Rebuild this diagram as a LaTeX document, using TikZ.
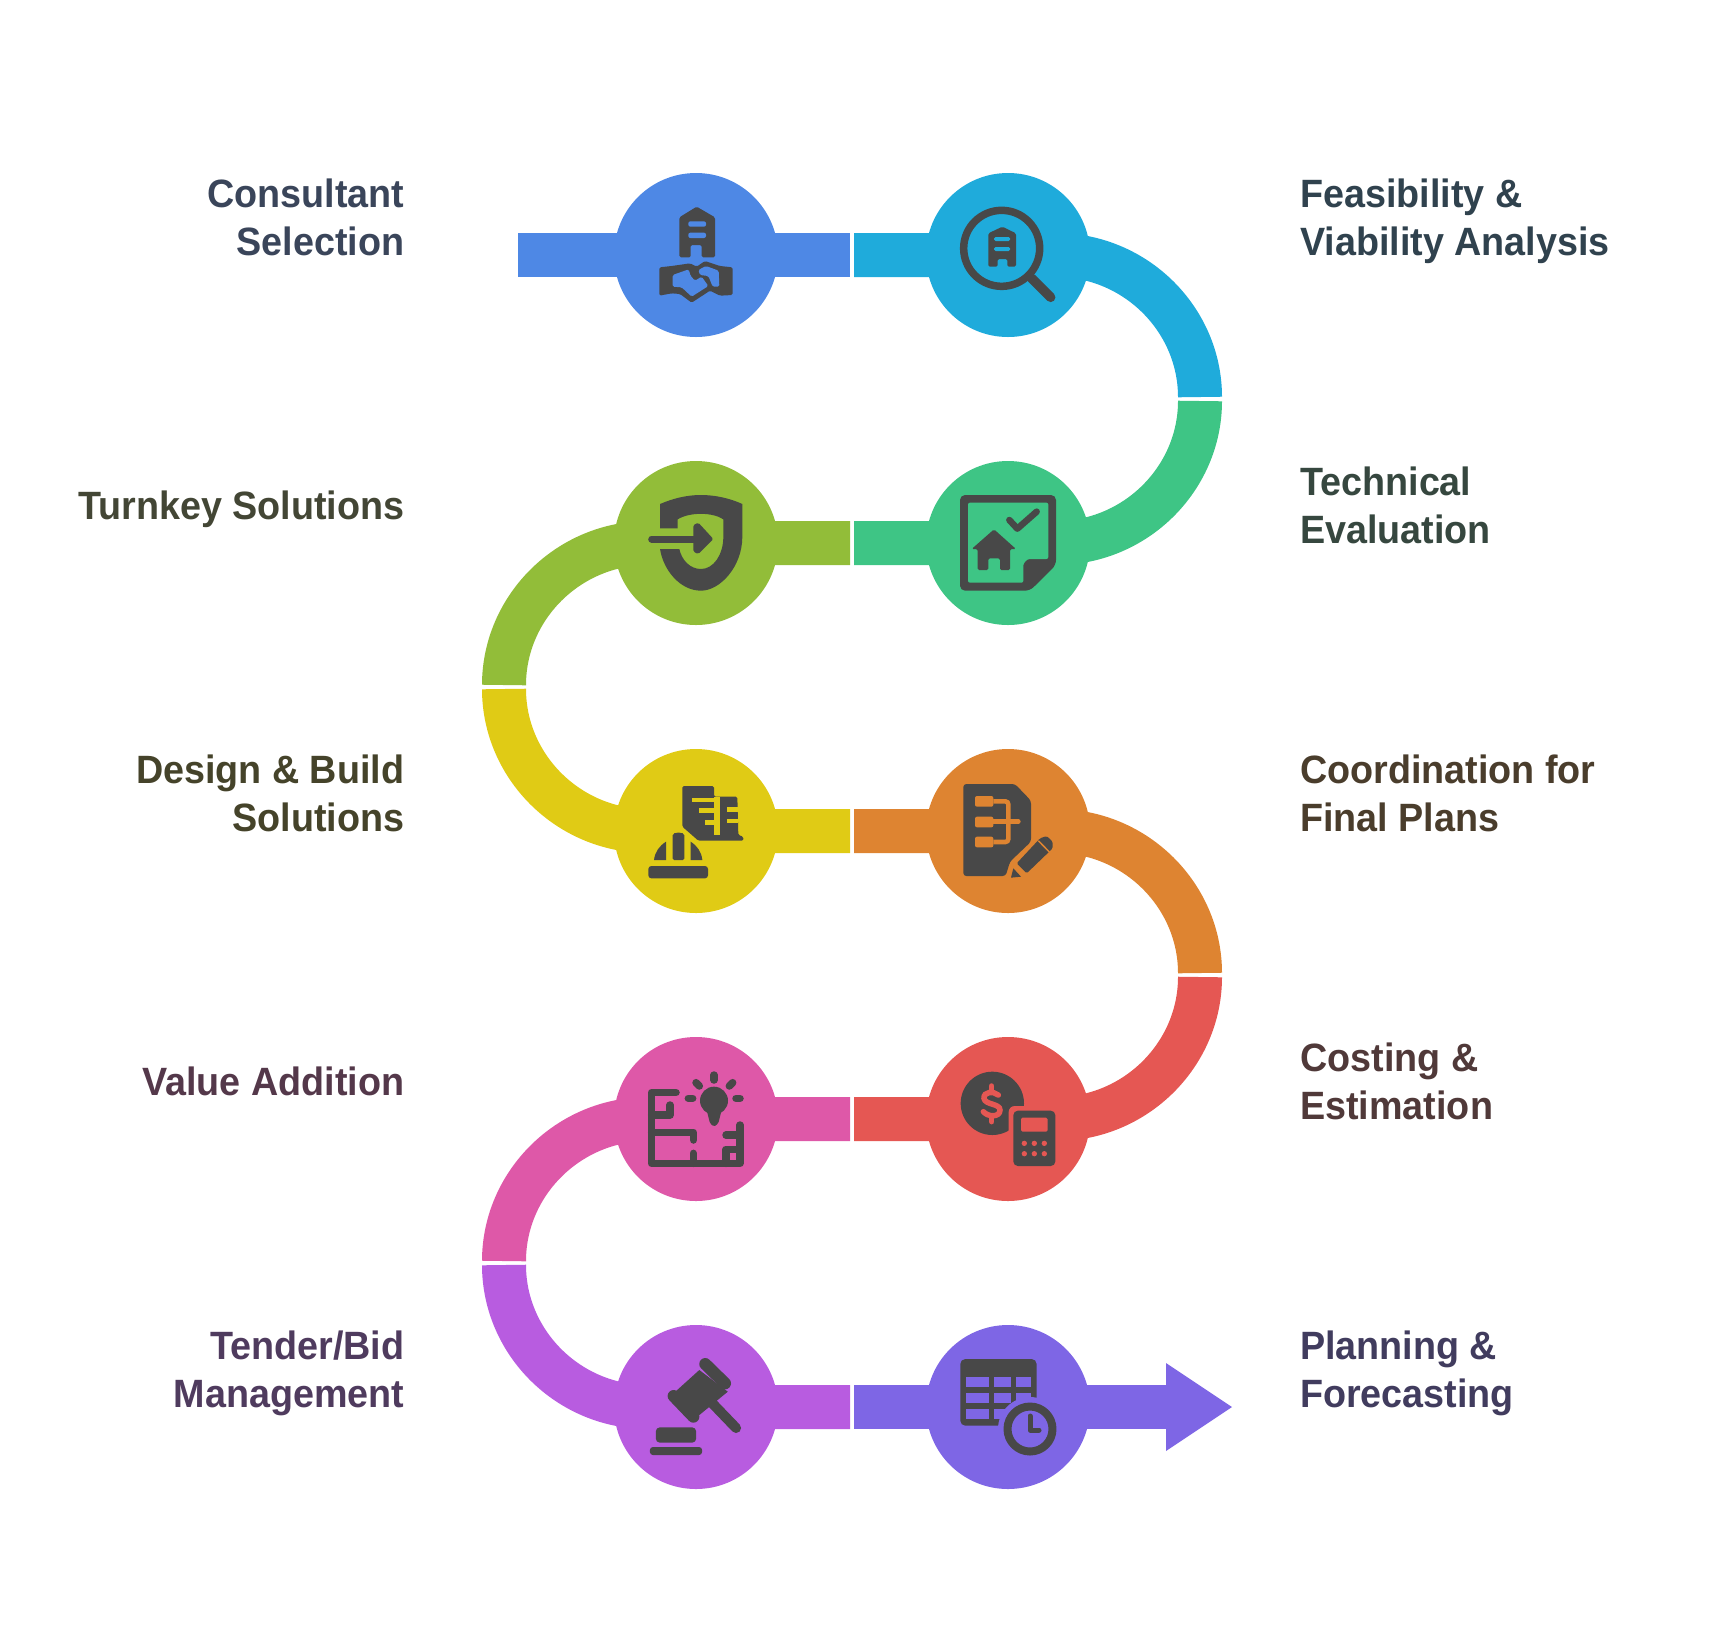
\documentclass[tikz,border=0pt]{standalone}
\usepackage{fontspec}
\newfontfamily\lab[FakeStretch=0.955]{Liberation Sans}
\definecolor{ic}{HTML}{484848}
\definecolor{cA}{HTML}{4E88E5}
\definecolor{cB}{HTML}{1FABDB}
\definecolor{cC}{HTML}{3EC585}
\definecolor{cD}{HTML}{92BD39}
\definecolor{cE}{HTML}{E0CB15}
\definecolor{cF}{HTML}{DE8431}
\definecolor{cG}{HTML}{E55753}
\definecolor{cH}{HTML}{DE58A8}
\definecolor{cI}{HTML}{B85CE0}
\definecolor{cJ}{HTML}{7E66E5}
\definecolor{tA}{HTML}{3A455A}
\definecolor{tB}{HTML}{30424E}
\definecolor{tC}{HTML}{36473F}
\definecolor{tD}{HTML}{434635}
\definecolor{tE}{HTML}{45432A}
\definecolor{tF}{HTML}{4A3D2C}
\definecolor{tG}{HTML}{503939}
\definecolor{tH}{HTML}{54384A}
\definecolor{tI}{HTML}{4F3B5E}
\definecolor{tJ}{HTML}{413C5E}
\tikzset{
  band/.style={line width=44pt,line cap=butt,draw=#1},
  disc/.style={circle,minimum size=164pt,inner sep=0pt,fill=#1},
  lblL/.style={anchor=base east,align=right,text=#1,font=\lab\fontsize{39.5}{48}\selectfont\bfseries,inner sep=0pt},
  lblR/.style={anchor=base west,align=left,text=#1,font=\lab\fontsize{39.5}{48}\selectfont\bfseries,inner sep=0pt},
  zm/.style={x=.33333pt,y=-.33333pt},
  zw/.style={x=.39541pt,y=-.33333pt},
  ico/.style={fill=ic,rounded corners=1.5pt},
  stk/.style={draw=ic,line cap=round,line join=round,line width=#1,fill=none},
}
\begin{document}
\begin{tikzpicture}[x=1pt,y=-1pt]
\useasboundingbox (0,0) rectangle (1728,1634);
% junction and path coordinates
\coordinate (s0) at (518,255);
\coordinate (j12) at (852,255);
\coordinate (a2) at (1056,255);
\coordinate (j34) at (852,543);
\coordinate (j23) at (1200,399);
\coordinate (a4) at (648,543);
\coordinate (j45) at (504,687);
\coordinate (j56) at (852,831);
\coordinate (a6) at (1056,831);
\coordinate (j67) at (1200,975);
\coordinate (j78) at (852,1119);
\coordinate (a8) at (648,1119);
\coordinate (j89) at (504,1263);
\coordinate (j90) at (852,1407);
\coordinate (e0) at (1166,1407);
% band
\draw[band=cA,shorten >=2pt] (s0) -- (j12);
\draw[band=cB,shorten <=2pt,shorten >=2pt] (j12) -- (a2) arc[start angle=-90,end angle=0,radius=144];
\draw[band=cC,shorten <=2pt,shorten >=2pt] (j23) arc[start angle=0,end angle=90,radius=144] -- (j34);
\draw[band=cD,shorten <=2pt,shorten >=2pt] (j34) -- (a4) arc[start angle=270,end angle=180,radius=144];
\draw[band=cE,shorten <=2pt,shorten >=2pt] (j45) arc[start angle=180,end angle=90,radius=144] -- (j56);
\draw[band=cF,shorten <=2pt,shorten >=2pt] (j56) -- (a6) arc[start angle=-90,end angle=0,radius=144];
\draw[band=cG,shorten <=2pt,shorten >=2pt] (j67) arc[start angle=0,end angle=90,radius=144] -- (j78);
\draw[band=cH,shorten <=2pt,shorten >=2pt] (j78) -- (a8) arc[start angle=270,end angle=180,radius=144];
\draw[band=cI,shorten <=2pt,shorten >=2pt] (j89) arc[start angle=180,end angle=90,radius=144] -- (j90);
\draw[band=cJ,shorten <=2pt] (j90) -- (e0);
\fill[cJ] (1166,1363) -- (1232,1407) -- (1166,1451) -- cycle;
% discs
\node[disc=cA] (c1) at (696,255) {};
\node[disc=cB] (c2) at (1008,255) {};
\node[disc=cC] (c3) at (1008,543) {};
\node[disc=cD] (c4) at (696,543) {};
\node[disc=cE] (c5) at (696,831) {};
\node[disc=cF] (c6) at (1008,831) {};
\node[disc=cG] (c7) at (1008,1119) {};
\node[disc=cH] (c8) at (696,1119) {};
\node[disc=cI] (c9) at (696,1407) {};
\node[disc=cJ] (c10) at (1008,1407) {};
% icon 1
\begin{scope}[shift={(600,180)},zm]
\fill[ico] (290,80) -- (345,112) -- (345,232) -- (305,232) -- (305,195) -- (272,195) -- (272,232) -- (238,232) -- (238,112) -- cycle;
\fill[cA,rounded corners=2pt] (265,124) rectangle (318,140);
\fill[cA,rounded corners=2pt] (265,158) rectangle (318,174);
\fill[ico] (178,262) -- (215,258) -- (270,250) -- (290,260) -- (315,243) -- (360,258) -- (398,262) -- (398,345) -- (360,347) -- (330,332) -- (275,368) -- (240,342) -- (215,340) -- (178,347) -- cycle;
\fill[cA,rounded corners=1.5pt] (218,285) -- (266,268) -- (272,288) -- (285,302) -- (305,290) -- (325,318) -- (275,350) -- (245,322) -- (218,320) -- cycle;
\fill[cA,rounded corners=1.5pt] (295,270) -- (318,258) -- (356,272) -- (358,320) -- (338,320) -- (325,288) -- (300,285) -- cycle;
\end{scope}
% icon 2
\begin{scope}[shift={(930,190)},zm]
\draw[stk=7.5pt] (215,175) circle[radius=114];
\draw[stk=9.5pt] (305,265) -- (362,322);
\fill[ico] (217,110) -- (258,130) -- (258,230) -- (232,230) -- (232,207) -- (203,207) -- (203,230) -- (175,230) -- (175,130) -- cycle;
\fill[cB,rounded corners=1.5pt] (192,141) rectangle (240,153);
\fill[cB,rounded corners=1.5pt] (192,171) rectangle (240,183);
\end{scope}
% icon 3 and 4
\begin{scope}[shift={(640,480)},zm]
\fill[ic] (60,145) -- (60,72) .. controls (100,55) and (140,45) .. (183,45) .. controls (226,45) and (270,55) .. (307,72) -- (307,170) .. controls (307,260) and (240,332) .. (183,332) .. controls (120,332) and (70,270) .. (60,207) -- (118,207) .. controls (125,240) and (150,267) .. (183,267) .. controls (220,267) and (250,225) .. (250,170) -- (250,118) .. controls (220,97) and (150,95) .. (113,118) -- (113,145) -- cycle;
\draw[stk=7pt] (35,177) -- (170,177);
\fill[ico] (160,135) -- (175,128) -- (220,177) -- (175,222) -- (160,215) -- cycle;
\fill[ic,rounded corners=5pt] (960,45) -- (1248,45) -- (1248,255) -- (1170,332) -- (960,332) -- cycle;
\fill[cC,rounded corners=2pt] (984,68) -- (1225,68) -- (1225,237) -- (1175,237) .. controls (1160,237) and (1150,250) .. (1150,262) -- (1150,308) -- (984,308) -- cycle;
\draw[stk=6.5pt] (1108,120) -- (1132,146) -- (1190,95);
\fill[ico] (1062,148) -- (1128,207) -- (1110,207) -- (1110,270) -- (1080,270) -- (1080,235) -- (1045,235) -- (1045,270) -- (1013,270) -- (1013,207) -- (995,207) -- cycle;
\end{scope}
% icon 5 and 6
\begin{scope}[shift={(640,770)},zm]
\fill[ico] (127,48) -- (222,48) -- (222,80) -- (292,80) -- (295,195) -- (310,200) -- (310,212) -- (175,212) -- (150,190) -- (127,170) -- cycle;
\fill[cE] (155,83) rectangle (222,96);
\fill[cE] (178,115) rectangle (222,130);
\fill[cE] (195,150) rectangle (222,165);
\fill[cE] (222,80) rectangle (240,195);
\fill[cE] (260,112) rectangle (295,125);
\fill[cE] (260,148) rectangle (295,160);
\fill[ico] (98,200) .. controls (98,185) and (133,185) .. (133,200) -- (133,270) -- (98,270) -- cycle;
\fill[ic] (42,270) .. controls (45,245) and (58,228) .. (78,215) -- (78,270) -- cycle;
\fill[ic] (187,270) .. controls (184,245) and (172,228) .. (152,215) -- (152,270) -- cycle;
\fill[ic,rounded corners=3pt] (25,288) rectangle (204,325);
\fill[ic,rounded corners=3pt] (970,42) -- (1125,42) -- (1173,92) -- (1173,215) -- (1110,275) -- (1097,318) -- (970,318) -- cycle;
\fill[cF,rounded corners=2pt] (1005,78) rectangle (1060,110);
\fill[cF,rounded corners=2pt] (1005,140) rectangle (1060,172);
\fill[cF,rounded corners=2pt] (1005,200) rectangle (1060,232);
\draw[cF,line width=4.6pt,rounded corners=3pt] (1060,94) -- (1105,94) -- (1105,216) -- (1060,216);
\draw[cF,line width=4.6pt,line cap=round] (1060,155) -- (1135,155);
\fill[ico] (1160,310) -- (1238,235) -- (1238,215) -- (1220,198) -- (1200,205) -- (1130,280) -- cycle;
\draw[cF,line width=1.5pt] (1195,212) -- (1228,246);
\fill[ic] (1113,323) -- (1143,320) -- (1120,295) -- cycle;
\end{scope}
% icon 7 and 8
\begin{scope}[shift={(640,1060)},zm]
\fill[ic] (1057,130) circle[radius=95];
\draw[cG,line width=5.5pt,line cap=round] (1075,105) .. controls (1060,92) and (1030,95) .. (1032,115) .. controls (1035,135) and (1080,130) .. (1080,150) .. controls (1080,172) and (1045,172) .. (1030,155);
\draw[cG,line width=5.5pt,line cap=round] (1055,78) -- (1055,92);
\draw[cG,line width=5.5pt,line cap=round] (1055,172) -- (1055,185);
\fill[cG,rounded corners=6pt] (1106,138) rectangle (1262,335);
\fill[ic,rounded corners=4.5pt] (1120,152) rectangle (1246,318);
\fill[cG,rounded corners=1.5pt] (1143,173) rectangle (1223,215);
\foreach \ya/\yb in {250/1,281/2}{
  \fill[cG] (1153,\ya) circle[radius=8];
  \fill[cG] (1183,\ya) circle[radius=8];
  \fill[cG] (1213,\ya) circle[radius=8];
}
\fill[ic] (222,122) circle[radius=42];
\fill[ico] (200,150) -- (245,150) -- (235,190) -- (222,200) -- (210,190) -- cycle;
\draw[stk=7.5pt] (222,45) -- (222,60);
\draw[stk=7.5pt] (168,68) -- (178,78);
\draw[stk=7.5pt] (278,68) -- (268,78);
\draw[stk=7.5pt] (145,115) -- (158,115);
\draw[stk=7.5pt] (288,115) -- (300,115);
\draw[stk=7.5pt] (108,98) -- (35,98) -- (35,310) -- (300,310) -- (300,195);
\draw[stk=7.5pt] (90,135) -- (90,165) -- (35,165);
\draw[stk=7.5pt] (35,217) -- (160,217) -- (160,240);
\draw[stk=7.5pt] (160,280) -- (160,310);
\draw[stk=7.5pt] (258,225) -- (300,225);
\draw[stk=7.5pt] (300,268) -- (258,268) -- (258,310);
\end{scope}
% icon 9 and 10
\begin{scope}[shift={(640,1350)},zw]
\fill[ic] (150,60) -- (222,125) -- (145,200) -- (80,135) -- cycle;
\draw[stk=12pt] (165,42) -- (215,100);
\draw[stk=12pt] (85,138) -- (135,200);
\draw[stk=10pt] (175,150) -- (243,234);
\fill[ic,rounded corners=4pt] (40,232) rectangle (142,278);
\fill[ic,rounded corners=3pt] (25,291) rectangle (157,315);
\fill[ic,rounded corners=5pt] (810,27) rectangle (1003,227);
\foreach \xa/\xb in {824/882,896/938,952/990}{
  \fill[cJ] (\xa,80) rectangle (\xb,112);
  \fill[cJ] (\xa,130) rectangle (\xb,160);
  \fill[cJ] (\xa,178) rectangle (\xb,208);
}
\end{scope}
\fill[cJ] (1030,1429) circle[radius=32];
\fill[cJ] (1003,1426) rectangle (1045,1438);
\draw[stk=8pt] (1030,1429) circle[radius=22.5];
\draw[stk=5pt] (1030,1416) -- (1030,1430) -- (1039,1430);
% labels
\node[lblL=tA] (l1) at (404.5,255.5) {Consultant\\Selection};
\node[lblR=tB] (l2) at (1300,255.5) {Feasibility \&\\Viability Analysis};
\node[lblR=tC] (l3) at (1300,543.5) {Technical\\Evaluation};
\node[lblL=tD] (l4) at (404.5,519) {Turnkey Solutions};
\node[lblL=tE] (l5) at (404.5,831.5) {Design \& Build\\Solutions};
\node[lblR=tF] (l6) at (1300,831.5) {Coordination for\\Final Plans};
\node[lblR=tG] (l7) at (1300,1119.5) {Costing \&\\Estimation};
\node[lblL=tH] (l8) at (404.5,1095) {Value Addition};
\node[lblL=tI] (l9) at (404.5,1407.5) {Tender/Bid\\Management};
\node[lblR=tJ] (l10) at (1300,1407.5) {Planning \&\\Forecasting};
\end{tikzpicture}
\end{document}
